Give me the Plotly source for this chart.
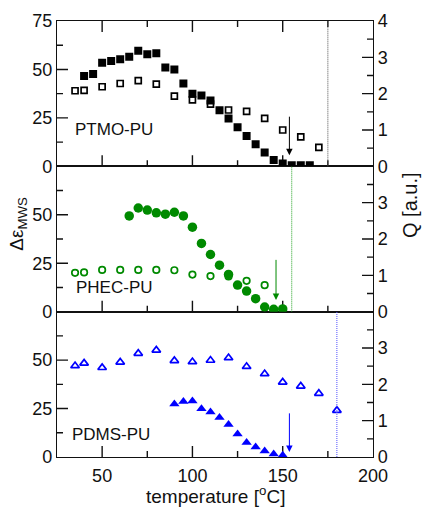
import plotly.graph_objects as go

# ---------------- data ----------------
ptmo_T_eps = [40, 45, 50, 55, 60, 65, 70, 75, 80, 85, 90, 95, 100, 105, 110, 115, 120, 125, 130, 135, 140, 145, 150, 155, 160, 165]
ptmo_eps = [46.6, 47.6, 53.4, 54.3, 55.2, 56.5, 59.6, 57.8, 58.4, 51.0, 50.0, 42.8, 37.4, 36.6, 34.0, 29.0, 24.7, 20.2, 15.7, 11.4, 7.1, 3.3, 1.4, 0.6, 0.5, 0.5]
ptmo_T_Q = [35, 40, 50, 60, 70, 80, 90, 100, 110, 120, 130, 140, 150, 160, 170]
ptmo_Q = [2.08, 2.09, 2.19, 2.28, 2.36, 2.26, 1.93, 1.83, 1.71, 1.55, 1.51, 1.32, 1.00, 0.81, 0.52]

phec_T_eps = [65, 70, 75, 80, 85, 90, 95, 100, 105, 110, 115, 120, 125, 130, 135, 140, 145, 150]
phec_eps = [49.4, 53.5, 52.4, 51.0, 50.3, 51.3, 49.4, 43.6, 35.2, 29.5, 24.0, 19.2, 13.7, 10.6, 6.7, 2.4, 1.2, 1.4]
phec_T_Q = [35, 40, 50, 60, 70, 80, 90, 100, 110, 120, 130, 140]
phec_Q = [1.07, 1.08, 1.15, 1.15, 1.15, 1.15, 1.14, 1.02, 0.98, 0.97, 0.85, 0.73]

pdms_T_eps = [90, 95, 100, 105, 110, 115, 120, 125, 130, 135, 140, 145, 150]
pdms_eps = [27.3, 28.7, 28.9, 24.9, 23.2, 20.4, 16.8, 11.9, 7.5, 5.2, 3.1, 1.6, 0.9]
pdms_T_Q = [35, 40, 50, 60, 70, 80, 90, 100, 110, 120, 130, 140, 150, 160, 170, 180]
pdms_Q = [2.51, 2.58, 2.46, 2.61, 2.85, 2.94, 2.65, 2.62, 2.66, 2.73, 2.49, 2.29, 2.06, 1.95, 1.75, 1.28]

sample_names = ["PTMO-PU", "PHEC-PU", "PDMS-PU"]
label_T = [33.9, 34.4, 32.2]
label_eps = [19.1, 12.4, 11.8]
arrow_T = [153.7, 146.3, 153.7]
arrow_top = [26.4, 27.5, 23.3]
arrow_tip = [5.7, 6.0, 2.6]
vline_T = [175, 155, 180]

# axis ranges and tick values
X_RANGE = [25, 200]
YL_RANGE = [0, 75]
YR_RANGE = [0, 4]
x_labels = [50, 100, 150, 200]
x_major = [50, 100, 150]
x_minor = [75, 125, 175]
yl_labels_top = [0, 25, 50, 75]
yl_labels = [0, 25, 50]
yl_major = [25, 50]
yl_minor = [12.5, 37.5, 62.5]
yr_labels_top = [0, 1, 2, 3, 4]
yr_labels = [0, 1, 2, 3]
yr_major = [1, 2, 3]
yr_minor = [0.5, 1.5, 2.5, 3.5]

colors = ["black", "#008a00", "#0000ff"]
line_colors = ["#505050", "#20a020", "#5050ff"]
INK = "#111111"
FONT = "Liberation Sans, Arial, sans-serif"
MAJ, MIN, TW = 11, 6, 1.4

W, H = 422, 507
ML, MR, MT, MB = 57, 49, 21, 50
plot_w = W - ML - MR
panel_h = (H - MT - MB) / 3

fig = go.Figure()

panels = [
    dict(xa="x3", yl="y5", yr="y6"),
    dict(xa="x2", yl="y3", yr="y4"),
    dict(xa="x", yl="y", yr="y2"),
]
filled_sym = ["square", "circle", "triangle-up"]
open_sym = ["square-open", "circle-open", "triangle-up-open"]
filled_size = [8, 9.5, 9]
open_size = [6, 6.5, 7.5]

eps_T = [ptmo_T_eps, phec_T_eps, pdms_T_eps]
eps_v = [ptmo_eps, phec_eps, pdms_eps]
q_T = [ptmo_T_Q, phec_T_Q, pdms_T_Q]
q_v = [ptmo_Q, phec_Q, pdms_Q]

# tick lengths converted from pixels into axis units
x_per_px = (X_RANGE[1] - X_RANGE[0]) / plot_w
yl_per_px = (YL_RANGE[1] - YL_RANGE[0]) / panel_h
yr_per_px = (YR_RANGE[1] - YR_RANGE[0]) / panel_h


def seg(xs, ys, x0, y0, x1, y1):
    xs += [x0, x1, None]
    ys += [y0, y1, None]


for i, p in enumerate(panels):
    xa, yl, yr = p["xa"], p["yl"], p["yr"]
    # inward tick marks (drawn as thin line segments on the panel's axes)
    lx, ly = [], []
    for vals, ln in ((x_major, MAJ), (x_minor, MIN)):
        for v in vals:
            seg(lx, ly, v, YL_RANGE[0], v, YL_RANGE[0] + ln * yl_per_px)
            if i == 0:
                seg(lx, ly, v, YL_RANGE[1], v, YL_RANGE[1] - ln * yl_per_px)
    for vals, ln in ((yl_major, MAJ), (yl_minor, MIN)):
        for v in vals:
            seg(lx, ly, X_RANGE[0], v, X_RANGE[0] + ln * x_per_px, v)
    rx, ry = [], []
    for vals, ln in ((yr_major, MAJ), (yr_minor, MIN)):
        for v in vals:
            seg(rx, ry, X_RANGE[1], v, X_RANGE[1] - ln * x_per_px, v)
    fig.add_trace(go.Scatter(x=lx, y=ly, xaxis=xa, yaxis=yl, mode="lines",
                             line=dict(color=INK, width=TW), hoverinfo="skip",
                             showlegend=False))
    fig.add_trace(go.Scatter(x=rx, y=ry, xaxis=xa, yaxis=yr, mode="lines",
                             line=dict(color=INK, width=TW), hoverinfo="skip",
                             showlegend=False))

    fig.add_trace(go.Scatter(
        x=q_T[i], y=q_v[i], xaxis=xa, yaxis=yr, mode="markers",
        marker=dict(symbol=open_sym[i], size=open_size[i], color=colors[i],
                    line=dict(width=1.7, color=colors[i])),
        showlegend=False))
    fig.add_trace(go.Scatter(
        x=eps_T[i], y=eps_v[i], xaxis=xa, yaxis=yl, mode="markers",
        marker=dict(symbol=filled_sym[i], size=filled_size[i], color=colors[i],
                    line=dict(width=0)),
        showlegend=False))

third = 1 / 3
common = dict(showline=True, linecolor=INK, linewidth=1.4, showgrid=False,
              zeroline=False, ticks="", tickmode="array",
              tickfont=dict(family=FONT, size=18, color=INK))

fig.update_layout(
    width=W, height=H,
    margin=dict(l=ML, r=MR, t=MT, b=MB, pad=0),
    paper_bgcolor="white", plot_bgcolor="white",
    font=dict(family=FONT, size=18, color=INK),
    xaxis=dict(common, range=X_RANGE, anchor="y", mirror=True, tickvals=x_labels,
               ticklabelstandoff=2),
    xaxis2=dict(common, range=X_RANGE, anchor="y3", mirror=True, tickvals=x_labels,
                showticklabels=False),
    xaxis3=dict(common, range=X_RANGE, anchor="y5", mirror=True, tickvals=x_labels,
                showticklabels=False),
    yaxis=dict(common, range=YL_RANGE, domain=[0, third], anchor="x", tickvals=yl_labels),
    yaxis2=dict(common, range=YR_RANGE, anchor="x", overlaying="y", side="right",
                tickvals=yr_labels),
    yaxis3=dict(common, range=YL_RANGE, domain=[third, 2 * third], anchor="x2",
                tickvals=yl_labels),
    yaxis4=dict(common, range=YR_RANGE, anchor="x2", overlaying="y3", side="right",
                tickvals=yr_labels),
    yaxis5=dict(common, range=YL_RANGE, domain=[2 * third, 1], anchor="x3",
                tickvals=yl_labels_top),
    yaxis6=dict(common, range=YR_RANGE, anchor="x3", overlaying="y5", side="right",
                tickvals=yr_labels_top),
)

for i, p in enumerate(panels):
    xa, yl = p["xa"], p["yl"]
    fig.add_shape(type="line", xref=xa, yref=yl + " domain",
                  x0=vline_T[i], x1=vline_T[i], y0=0, y1=1,
                  line=dict(color=line_colors[i], width=1, dash="1px,1px"))
    fig.add_annotation(xref=xa, yref=yl, x=arrow_T[i], y=arrow_tip[i],
                       axref=xa, ayref=yl, ax=arrow_T[i], ay=arrow_top[i],
                       text="", showarrow=True, arrowhead=2, arrowsize=1.3,
                       arrowwidth=1, arrowcolor=colors[i])
    fig.add_annotation(xref=xa, yref=yl, x=label_T[i], y=label_eps[i],
                       text=sample_names[i], showarrow=False, xanchor="left",
                       yanchor="middle", font=dict(family=FONT, size=17, color=INK))

fig.add_annotation(xref="paper", yref="paper", x=0.5, y=0, yshift=-38,
                   text="temperature [<sup>o</sup>C]", showarrow=False,
                   xanchor="center", yanchor="middle",
                   font=dict(family=FONT, size=19, color=INK))
fig.add_annotation(xref="paper", yref="paper", x=0, xshift=-39, y=0.535,
                   text="Δε<sub>MWS</sub>", showarrow=False, textangle=-90,
                   xanchor="center", yanchor="middle",
                   font=dict(family=FONT, size=19, color=INK))
fig.add_annotation(xref="paper", yref="paper", x=1, xshift=37, y=0.578,
                   text="Q [a.u.]", showarrow=False, textangle=-90,
                   xanchor="center", yanchor="middle",
                   font=dict(family=FONT, size=20, color=INK))

fig.write_html("out.html")
